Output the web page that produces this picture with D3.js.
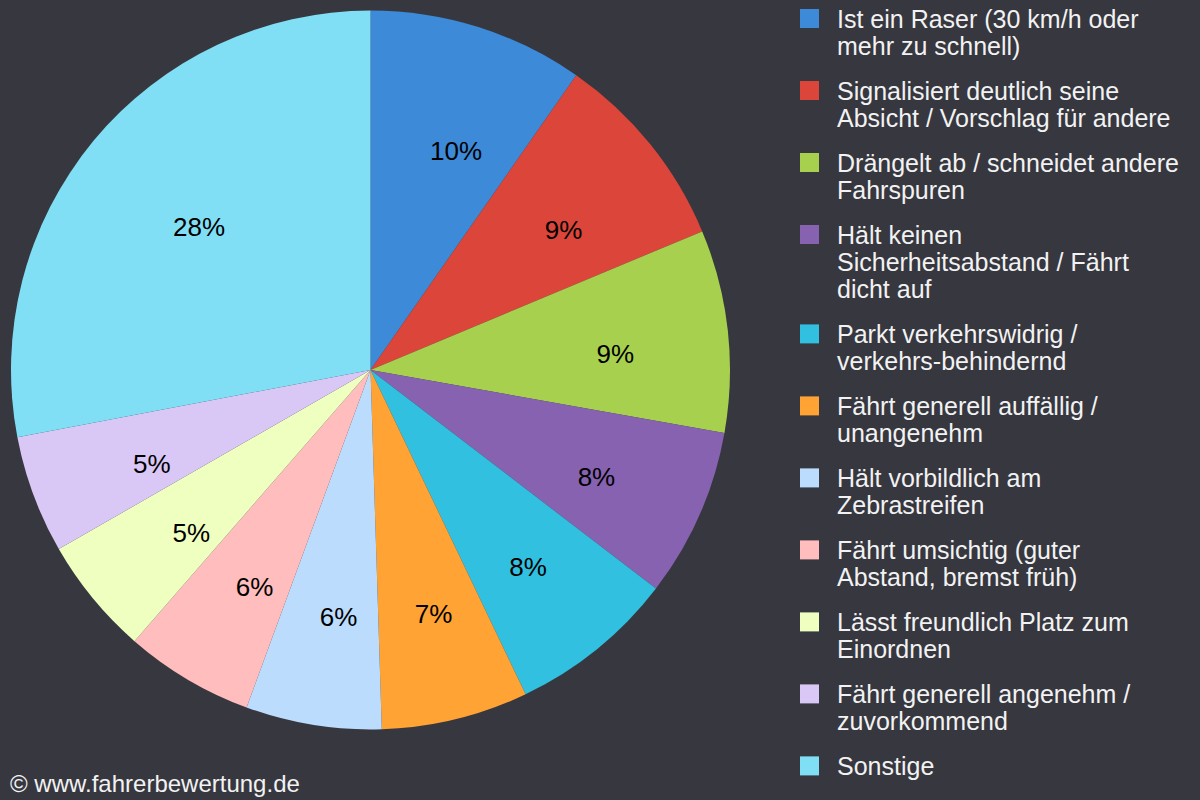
<!DOCTYPE html>
<html>
<head>
<meta charset="utf-8">
<script src="https://cdn.jsdelivr.net/npm/d3@7/dist/d3.min.js"></script>
<style>
  html, body { margin: 0; padding: 0; background: #36373f; }
  svg { display: block; }
  text { font-family: "Liberation Sans", Arial, sans-serif; }
</style>
</head>
<body>
<svg id="chart" width="1200" height="800"></svg>
<script>
// Categories (legend text; "\n" marks the line breaks shown in the legend)
const categories = [
  "Ist ein Raser (30 km/h oder\nmehr zu schnell)",
  "Signalisiert deutlich seine\nAbsicht / Vorschlag für andere",
  "Drängelt ab / schneidet andere\nFahrspuren",
  "Hält keinen\nSicherheitsabstand / Fährt\ndicht auf",
  "Parkt verkehrswidrig /\nverkehrs-behindernd",
  "Fährt generell auffällig /\nunangenehm",
  "Hält vorbildlich am\nZebrastreifen",
  "Fährt umsichtig (guter\nAbstand, bremst früh)",
  "Lässt freundlich Platz zum\nEinordnen",
  "Fährt generell angenehm /\nzuvorkommend",
  "Sonstige"
];
// Share in percent
const values = [9.7, 9.0, 9.1, 7.6, 7.5, 6.6, 6.1, 5.8, 5.3, 5.3, 28.0];
// Slice colours
const colors = ["#3c8ad8", "#dc4539", "#a8d04f", "#8762b1", "#31c0e0", "#ffa334",
                "#bbdcfd", "#ffbdbd", "#efffc0", "#d9c7f5", "#80dff5"];
const copyright = "© www.fahrerbewertung.de";

const svg = d3.select("#chart");
const W = 1200, H = 800;
svg.append("rect").attr("width", W).attr("height", H).attr("fill", "#36373f");

const cx = 370.5, cy = 370, R = 359.5;
const total = d3.sum(values);

const pie = d3.pie().sort(null).value(d => d)(values);
const arc = d3.arc().innerRadius(0).outerRadius(R);
const labelArc = d3.arc().innerRadius(240).outerRadius(240);

const g = svg.append("g").attr("transform", `translate(${cx},${cy})`);
g.selectAll("path.slice").data(pie).enter().append("path")
  .attr("class", "slice")
  .attr("d", arc)
  .attr("fill", (d, i) => colors[i]);

g.selectAll("text.pct").data(pie).enter().append("text")
  .attr("class", "pct")
  .attr("transform", d => {
    const [x, y] = labelArc.centroid(d);
    return `translate(${x - 12.5},${y + 10})`;
  })
  .attr("text-anchor", "start")
  .attr("dy", "0.36em")
  .attr("font-size", 26)
  .attr("fill", "#000")
  .text(d => Math.round(d.value / total * 100) + "%");

// Legend
const lineH = 27.4, itemGap = 44.6;
let y = 27.5;
const legend = svg.append("g");
categories.forEach((c, i) => {
  const lines = c.split("\n");
  legend.append("rect")
    .attr("x", 800).attr("y", y - 18.5)
    .attr("width", 19).attr("height", 19)
    .attr("fill", colors[i]);
  const t = legend.append("text")
    .attr("x", 837).attr("y", y)
    .attr("font-size", 25)
    .attr("fill", "#f2f2f2");
  lines.forEach((l, j) => {
    t.append("tspan").attr("x", 837).attr("y", y + j * lineH).text(l);
  });
  y += (lines.length - 1) * lineH + itemGap;
});

svg.append("text")
  .attr("x", 10).attr("y", 792)
  .attr("font-size", 24)
  .attr("fill", "#f2f2f2")
  .text(copyright);
</script>
</body>
</html>
